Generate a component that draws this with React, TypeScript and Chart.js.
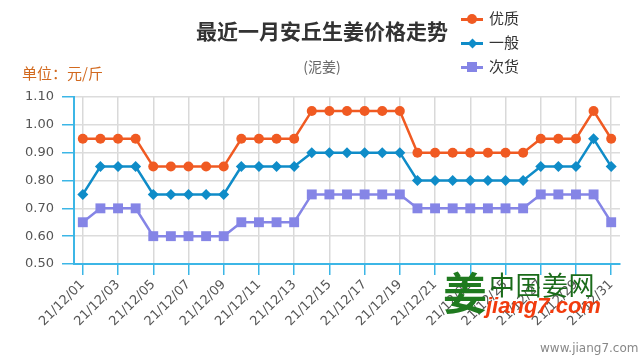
import React, { useEffect, useRef } from "react";
import { Chart, registerables } from "chart.js";

Chart.register(...registerables);

const dates = [
  "21/12/01", "21/12/02", "21/12/03", "21/12/04", "21/12/05", "21/12/06", "21/12/07", "21/12/08",
  "21/12/09", "21/12/10", "21/12/11", "21/12/12", "21/12/13", "21/12/14", "21/12/15", "21/12/16",
  "21/12/17", "21/12/18", "21/12/19", "21/12/20", "21/12/21", "21/12/22", "21/12/23", "21/12/24",
  "21/12/25", "21/12/26", "21/12/27", "21/12/28", "21/12/29", "21/12/30", "21/12/31",
];

const premium = [
  0.95, 0.95, 0.95, 0.95, 0.85, 0.85, 0.85, 0.85, 0.85, 0.95, 0.95, 0.95, 0.95, 1.05, 1.05, 1.05,
  1.05, 1.05, 1.05, 0.9, 0.9, 0.9, 0.9, 0.9, 0.9, 0.9, 0.95, 0.95, 0.95, 1.05, 0.95,
];
const ordinary = [
  0.75, 0.85, 0.85, 0.85, 0.75, 0.75, 0.75, 0.75, 0.75, 0.85, 0.85, 0.85, 0.85, 0.9, 0.9, 0.9,
  0.9, 0.9, 0.9, 0.8, 0.8, 0.8, 0.8, 0.8, 0.8, 0.8, 0.85, 0.85, 0.85, 0.95, 0.85,
];
const inferior = [
  0.65, 0.7, 0.7, 0.7, 0.6, 0.6, 0.6, 0.6, 0.6, 0.65, 0.65, 0.65, 0.65, 0.75, 0.75, 0.75,
  0.75, 0.75, 0.75, 0.7, 0.7, 0.7, 0.7, 0.7, 0.7, 0.7, 0.75, 0.75, 0.75, 0.75, 0.65,
];

const seriesNames = ["优质", "一般", "次货"];
const seriesColors = ["#f05a22", "#0f8cc8", "#8585e6"];
const yMin = 0.5;
const yMax = 1.1;
const yStep = 0.1;

const titleText = "最近一月安丘生姜价格走势";
const subtitleText = "(泥姜)";
const unitText = "单位：元/斤";

const CJK = '"Noto Sans CJK SC", "Noto Sans", sans-serif';
const AXIS_BLUE = "#3cb6e6";

function LegendMarker({ i }: { i: number }) {
  const c = seriesColors[i];
  const base: React.CSSProperties = { position: "absolute", background: c };
  let marker: React.CSSProperties;
  if (i === 0) marker = { ...base, left: 6, top: -4, width: 10, height: 10, borderRadius: 5 };
  else if (i === 1) marker = { ...base, left: 7.5, top: -2.5, width: 7, height: 7, transform: "rotate(45deg)" };
  else marker = { ...base, left: 6, top: -4, width: 10, height: 10 };
  return (
    <div style={{ position: "absolute", left: 0, top: 0, width: 22, height: 3 }}>
      <div style={{ position: "absolute", left: 0, top: 0, width: 22, height: 3, background: c }} />
      <div style={marker} />
    </div>
  );
}

export default function App() {
  const ref = useRef<HTMLCanvasElement>(null);

  useEffect(() => {
    const canvas = ref.current;
    if (!canvas) return;
    const pointStyles = ["circle", "rectRot", "rect"];
    const radii = [5, 5.5, 7];
    const values = [premium, ordinary, inferior];
    const chart = new Chart(canvas, {
      type: "line",
      data: {
        labels: dates,
        datasets: values.map((v, i) => ({
          label: seriesNames[i],
          data: v,
          borderColor: seriesColors[i],
          backgroundColor: seriesColors[i],
          borderWidth: 2.5,
          pointStyle: pointStyles[i] as any,
          pointRadius: radii[i],
          pointBorderWidth: 0,
          tension: 0,
          fill: false,
        })),
      },
      options: {
        responsive: false,
        animation: false,
        layout: { padding: { top: 97, right: 20, left: 0, bottom: 0 } },
        plugins: { legend: { display: false }, tooltip: { enabled: false }, title: { display: false } },
        scales: {
          x: {
            offset: true,
            grid: {
              offset: false,
              color: (c: any) => (c.index % 2 === 0 ? "#d9d9d9" : "rgba(0,0,0,0)"),
              tickColor: (c: any) => (c.index % 2 === 0 ? AXIS_BLUE : "rgba(0,0,0,0)"),
              tickLength: 11,
              lineWidth: 1.5,
            },
            border: { color: AXIS_BLUE, width: 2 },
            ticks: {
              autoSkip: false,
              maxRotation: 45,
              minRotation: 45,
              padding: 2,
              color: "#555",
              font: { family: "DejaVu Sans", size: 13 },
              callback: (_v: any, i: number) => (i % 2 === 0 ? dates[i] : ""),
            },
            afterFit: (s: any) => {
              s.height = 96;
            },
          },
          y: {
            min: yMin,
            max: yMax,
            grid: { color: "#dcdcdc", tickColor: AXIS_BLUE, tickLength: 12, lineWidth: 1.5 },
            border: { color: AXIS_BLUE, width: 2 },
            ticks: {
              stepSize: yStep,
              padding: 8,
              color: "#555",
              font: { family: "DejaVu Sans", size: 13 },
              callback: (v: any) => Number(v).toFixed(2),
            },
            afterFit: (s: any) => {
              s.width = 74;
            },
          },
        },
      },
    });
    return () => chart.destroy();
  }, []);

  return (
    <div style={{ position: "absolute", left: 0, top: 0, width: 640, height: 360, background: "#fff", overflow: "hidden" }}>
      <canvas ref={ref} width={640} height={360} style={{ position: "absolute", left: 0, top: 0, width: 640, height: 360 }} />
      <div
        style={{
          position: "absolute", left: 0, top: 19, width: 644, textAlign: "center",
          font: `bold 21px/22px ${CJK}`, color: "#333",
        }}
      >
        {titleText}
      </div>
      <div
        style={{
          position: "absolute", left: 0, top: 58, width: 644, textAlign: "center",
          font: `14px/16px ${CJK}`, color: "#666",
        }}
      >
        {subtitleText}
      </div>
      <div style={{ position: "absolute", left: 22, top: 64, font: `15px/17px ${CJK}`, color: "#d2691e", whiteSpace: "nowrap" }}>
        {unitText}
      </div>
      {seriesNames.map((n, i) => (
        <div key={n} style={{ position: "absolute", left: 461, top: 18 + i * 24, width: 80, height: 3 }}>
          <LegendMarker i={i} />
          <div style={{ position: "absolute", left: 28, top: -9, font: `15px/18px ${CJK}`, color: "#333", whiteSpace: "nowrap" }}>
            {n}
          </div>
        </div>
      ))}
      <div style={{ position: "absolute", left: 443, top: 268, font: `bold 44px/46px ${CJK}`, color: "#1f7a1f" }}>姜</div>
      <div style={{ position: "absolute", left: 489, top: 270, font: `26px/28px ${CJK}`, color: "#1a6b1a", whiteSpace: "nowrap", letterSpacing: 0.5 }}>
        中国姜网
      </div>
      <div
        style={{
          position: "absolute", left: 486, top: 294, font: `italic bold 22px/24px "Liberation Sans", Arial, sans-serif`,
          color: "#f23c0e", whiteSpace: "nowrap",
        }}
      >
        jiang7.com
      </div>
      <div style={{ position: "absolute", left: 540, top: 341, font: `12px/14px "DejaVu Sans", sans-serif`, color: "#888", whiteSpace: "nowrap" }}>
        www.jiang7.com
      </div>
    </div>
  );
}
